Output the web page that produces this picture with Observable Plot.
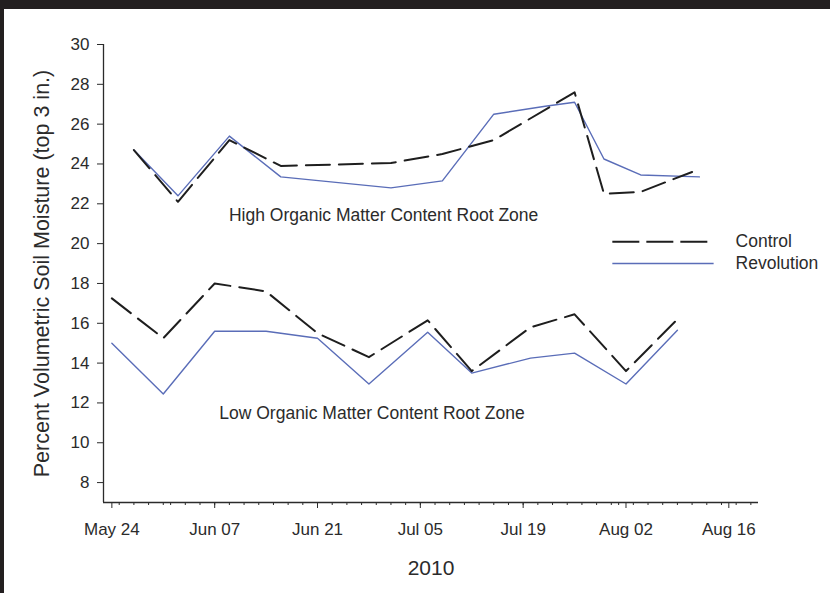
<!DOCTYPE html>
<html><head><meta charset="utf-8">
<script src="https://cdn.jsdelivr.net/npm/d3@7"></script>
<script src="https://cdn.jsdelivr.net/npm/@observablehq/plot@0.6"></script>
<style>
html,body{margin:0;padding:0;background:#fff;}
#wrap{position:relative;width:830px;height:593px;overflow:hidden;background:#fff;}
.bar{position:absolute;background:#231f20;}
</style></head><body>
<div id="wrap"></div>
<script>
// ---- data ----
const lowDates = ["2010-05-24","2010-05-31","2010-06-07","2010-06-14","2010-06-21","2010-06-28","2010-07-06","2010-07-12","2010-07-20","2010-07-26","2010-08-02","2010-08-09"];
const lowControl = [17.25,15.25,18.0,17.6,15.5,14.3,16.15,13.6,15.8,16.45,13.6,16.2];
const lowRevolution = [15.0,12.45,15.6,15.6,15.25,12.95,15.55,13.5,14.25,14.5,12.95,15.65];
const highDatesControl = ["2010-05-27","2010-06-02","2010-06-09","2010-06-16","2010-07-01","2010-07-08","2010-07-15","2010-07-26","2010-07-30","2010-08-04","2010-08-11"];
const highControl = [24.7,22.1,25.2,23.9,24.05,24.5,25.2,27.6,22.5,22.6,23.6];
const highDatesRevolution = ["2010-05-27","2010-06-02","2010-06-09","2010-06-16","2010-07-01","2010-07-08","2010-07-15","2010-07-22","2010-07-26","2010-07-30","2010-08-04","2010-08-12"];
const highRevolution = [24.7,22.4,25.4,23.35,22.8,23.15,26.5,26.9,27.1,24.25,23.45,23.35];
const seriesNames = ["Control","Revolution"];
const yTicks = [8,10,12,14,16,18,20,22,24,26,28,30];
const xMajorTicks = ["2010-05-24","2010-06-07","2010-06-21","2010-07-05","2010-07-19","2010-08-02","2010-08-16"];
const zoneLabels = ["High Organic Matter Content Root Zone","Low Organic Matter Content Root Zone"];
const zoneLabelX = ["2010-06-30T00:00Z","2010-06-28T10:00Z"];
const zoneLabelY = [21.4, 11.45];
const legendY = [20.1, 19.0];
const legendX1 = "2010-07-31T05:00Z", legendX2 = "2010-08-14T00:00Z", legendTextX = "2010-08-16T22:00Z";
const yLabel = "Percent Volumetric Soil Moisture (top 3 in.)";
const xLabel = "2010";

// ---- build tables ----
const zip = (dates, vals, series, zone) => dates.map((d, i) => ({date: new Date(d), value: vals[i], series, zone}));
const rows = [
  ...zip(highDatesControl, highControl, "Control", "high"),
  ...zip(highDatesRevolution, highRevolution, "Revolution", "high"),
  ...zip(lowDates, lowControl, "Control", "low"),
  ...zip(lowDates, lowRevolution, "Revolution", "low")
];
const legend = seriesNames.map((s, i) => ({series: s, y: legendY[i], x1: new Date(legendX1), x2: new Date(legendX2), tx: new Date(legendTextX)}));
const zones = zoneLabels.map((t, i) => ({text: t, x: new Date(zoneLabelX[i]), y: zoneLabelY[i]}));

const xDomain = [new Date(Date.UTC(2010,4,22,20,40)), new Date(Date.UTC(2010,7,20,1))];
const minorTicks = d3.utcDay.every(2).range(new Date("2010-05-24"), xDomain[1]);
const majorTicks = xMajorTicks.map(d => new Date(d));

const CONTROL = "#1e1e1e", REV = "#5a6db8", DASH = "24,9";
const ink = "#2b2b2b";
const font = "'Liberation Sans', Arial, Helvetica, sans-serif";

const chart = Plot.plot({
  width: 830, height: 593,
  marginLeft: 103, marginRight: 72, marginTop: 44, marginBottom: 91,
  style: {fontFamily: font, fontSize: "17px", color: ink, background: "transparent"},
  x: {type: "utc", domain: xDomain},
  y: {domain: [7, 30]},
  marks: [
    Plot.axisY({ticks: yTicks, tickSize: 6, tickPadding: 8, label: null, fontSize: 17, stroke: ink}),
    Plot.axisX({ticks: minorTicks, tickSize: 3, tickFormat: () => "", label: null, stroke: ink}),
    Plot.axisX({ticks: majorTicks, tickSize: 6, tickPadding: 14, tickFormat: d3.utcFormat("%b %d"), label: null, fontSize: 17, stroke: ink}),
    Plot.ruleX([xDomain[0]], {stroke: ink, strokeWidth: 1.3}),
    Plot.ruleY([7], {stroke: ink, strokeWidth: 1.3}),
    Plot.line(rows.filter(d => d.series === "Revolution"), {x: "date", y: "value", z: "zone", stroke: REV, strokeWidth: 1.4}),
    Plot.line(rows.filter(d => d.series === "Control"), {x: "date", y: "value", z: "zone", stroke: CONTROL, strokeWidth: 2, strokeDasharray: DASH}),
    Plot.ruleY(legend.filter(d => d.series === "Control"), {y: "y", x1: "x1", x2: "x2", stroke: CONTROL, strokeWidth: 2, strokeDasharray: "27,7"}),
    Plot.ruleY(legend.filter(d => d.series === "Revolution"), {y: "y", x1: "x1", x2: "x2", stroke: REV, strokeWidth: 1.4}),
    Plot.text(legend, {x: "tx", y: "y", text: "series", textAnchor: "start", fontSize: 17.5, fill: ink}),
    Plot.text(zones, {x: "x", y: "y", text: "text", fontSize: 17.5, fill: ink}),
    Plot.text([yLabel], {frameAnchor: "left", dx: -61, rotate: -90, textAnchor: "middle", lineAnchor: "middle", fontSize: 21.5, fill: ink}),
    Plot.text([xLabel], {frameAnchor: "bottom", dy: 66, lineAnchor: "middle", fontSize: 21, fill: ink})
  ]
});
const wrapEl = document.getElementById("wrap");
chart.style.position = "absolute"; chart.style.left = "0"; chart.style.top = "0";
wrapEl.appendChild(chart);
const barTop = document.createElement("div"); barTop.className = "bar";
Object.assign(barTop.style, {left: "0", top: "0", width: "830px", height: "9px"});
const barLeft = document.createElement("div"); barLeft.className = "bar";
Object.assign(barLeft.style, {left: "0", top: "0", width: "4px", height: "593px"});
wrapEl.appendChild(barTop); wrapEl.appendChild(barLeft);
</script>
</body></html>
